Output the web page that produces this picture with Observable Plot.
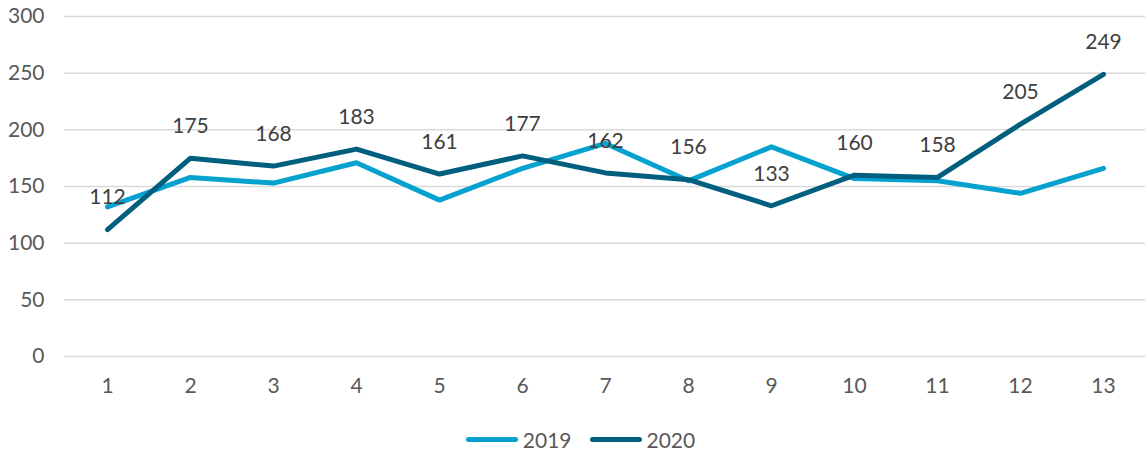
<!DOCTYPE html>
<html>
<head>
<meta charset="utf-8">
<script src="https://cdn.jsdelivr.net/npm/d3@7"></script>
<script src="https://cdn.jsdelivr.net/npm/@observablehq/plot@0.6"></script>
<style>
  body { margin: 0; background: #fff; font-family: Lato, "Open Sans", sans-serif; }
  #legend { display: flex; justify-content: center; align-items: center; height: 58px; margin-left: 16px; font-size: 21px; color: #595959; }
  .item { display: flex; align-items: center; margin: 0 9px; }
  .sw { width: 52px; height: 5px; border-radius: 3px; margin-right: 5px; }
</style>
</head>
<body>
<div id="chart"></div>
<div id="legend"></div>
<script>
const weeks = [1,2,3,4,5,6,7,8,9,10,11,12,13];
const series = ["2019", "2020"];
const values2019 = [132,158,153,171,138,166,188,155,185,157,155,144,166];
const values2020 = [112,175,168,183,161,177,162,156,133,160,158,205,249];
const yTicks = [0,50,100,150,200,250,300];
const colors = ["#05A2CF", "#005E7E"];

const data = [];
weeks.forEach((w, i) => {
  data.push({week: w, series: series[0], value: values2019[i]});
  data.push({week: w, series: series[1], value: values2020[i]});
});
const d2020 = data.filter(d => d.series === "2020");

const chart = Plot.plot({
  width: 1145,
  height: 410,
  marginLeft: 64,
  marginRight: 0,
  marginTop: 16,
  marginBottom: 54,
  style: {fontFamily: "Lato, 'Open Sans', sans-serif", fontSize: "21px", color: "#595959", background: "#fff"},
  x: {type: "point", domain: weeks, padding: 0.5, label: null},
  y: {domain: [0, 300], label: null},
  color: {domain: series, range: colors},
  marks: [
    Plot.gridY(yTicks, {stroke: "#d9d9d9", strokeOpacity: 1, strokeWidth: 1.5}),
    Plot.axisX({tickSize: 0, tickPadding: 22, fontSize: 21, fill: "#595959"}),
    Plot.axisY({ticks: yTicks, tickSize: 0, tickPadding: 20, fontSize: 21, fill: "#595959"}),
    Plot.line(data, {x: "week", y: "value", z: "series", stroke: "series", strokeWidth: 5, strokeLinejoin: "round", strokeLinecap: "round"}),
    Plot.text(d2020, {x: "week", y: "value", text: d => String(d.value), dy: -32, fill: "#404040", fontSize: 21})
  ]
});
document.getElementById("chart").appendChild(chart);

const legend = document.getElementById("legend");
series.forEach((s, i) => {
  const item = document.createElement("div");
  item.className = "item";
  const sw = document.createElement("span");
  sw.className = "sw";
  sw.style.background = colors[i];
  const t = document.createElement("span");
  t.textContent = s;
  item.appendChild(sw);
  item.appendChild(t);
  legend.appendChild(item);
});
</script>
</body>
</html>
